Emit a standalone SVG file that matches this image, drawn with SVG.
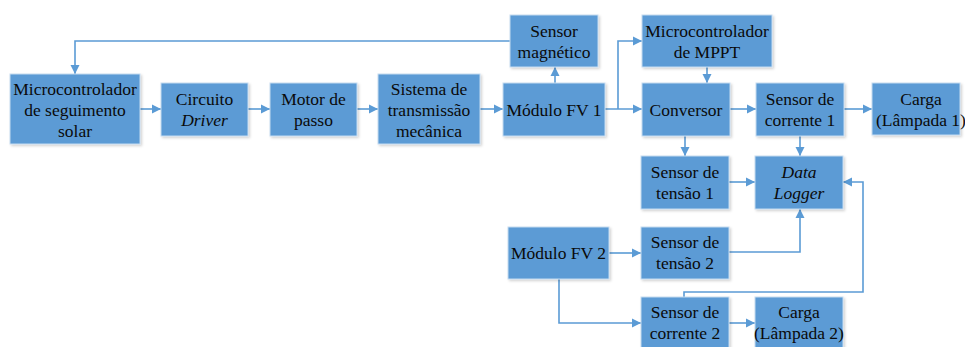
<svg xmlns="http://www.w3.org/2000/svg" width="965" height="347" viewBox="0 0 965 347" font-family="'Liberation Serif', 'Times New Roman', serif" font-size="17.5">
<style>
.box{fill:#5B9BD5;stroke:#C5DBF0;stroke-width:1;filter:url(#sh)}
text{fill:#0a0a0a;text-anchor:middle}
.it{font-style:italic}
.c{fill:none;stroke:#5B9BD5;stroke-width:1.6;marker-end:url(#ah)}
</style>
<defs>
<filter id="sh" x="-10%" y="-10%" width="130%" height="130%">
<feDropShadow dx="1.5" dy="1.5" stdDeviation="1" flood-color="#000" flood-opacity="0.18"/>
</filter>
<marker id="ah" markerUnits="userSpaceOnUse" markerWidth="10" markerHeight="10" refX="9" refY="5" orient="auto">
<path d="M0,0.5 L9,5 L0,9.5 z" fill="#5B9BD5"/>
</marker>
</defs>
<rect width="965" height="347" fill="#fff"/>
<g id="connectors">
<path class="c" d="M510,41 H75 V74"/>
<path class="c" d="M140,109 H161"/>
<path class="c" d="M248,109 H270"/>
<path class="c" d="M357,109 H378"/>
<path class="c" d="M480,109 H503"/>
<path class="c" d="M555,83 V67"/>
<path class="c" d="M605,109 H642"/>
<path class="c" d="M618,109 V41 H642"/>
<path class="c" d="M707,67 V83"/>
<path class="c" d="M730,109 H756"/>
<path class="c" d="M844,109 H872"/>
<path class="c" d="M685,136 V156"/>
<path class="c" d="M800,136 V156"/>
<path class="c" d="M729,182 H755"/>
<path class="c" d="M609,253 H641"/>
<path class="c" d="M729,252 H800 V209"/>
<path class="c" d="M559,279 V323 H641"/>
<path class="c" d="M729,323 H755"/>
<path class="c" d="M684,297 V292 H863 V182 H843"/>
</g>
<g id="micro-solar"><rect class="box" x="10" y="74" width="130" height="70"/>
<text x="75" y="95">Microcontrolador</text><text x="75" y="116">de seguimento</text><text x="75" y="137">solar</text></g>
<g id="driver"><rect class="box" x="161" y="83" width="87" height="53"/>
<text x="204.5" y="105">Circuito</text><text x="204.5" y="126" class="it">Driver</text></g>
<g id="motor"><rect class="box" x="270" y="83" width="87" height="53"/>
<text x="313.5" y="105">Motor de</text><text x="313.5" y="126">passo</text></g>
<g id="transmissao"><rect class="box" x="378" y="74" width="102" height="70"/>
<text x="429" y="95">Sistema de</text><text x="429" y="116">transmissão</text><text x="429" y="137">mecânica</text></g>
<g id="fv1"><rect class="box" x="503" y="83" width="102" height="53"/>
<text x="554" y="115.5">Módulo FV 1</text></g>
<g id="sensor-magnetico"><rect class="box" x="510" y="15" width="88" height="52"/>
<text x="554" y="37">Sensor</text><text x="554" y="58">magnético</text></g>
<g id="mppt"><rect class="box" x="642" y="15" width="130" height="52"/>
<text x="707" y="37">Microcontrolador</text><text x="707" y="58">de MPPT</text></g>
<g id="conversor"><rect class="box" x="642" y="83" width="88" height="53"/>
<text x="686" y="115.5">Conversor</text></g>
<g id="corrente1"><rect class="box" x="756" y="83" width="88" height="53"/>
<text x="800" y="105">Sensor de</text><text x="800" y="126">corrente 1</text></g>
<g id="carga1"><rect class="box" x="872" y="83" width="88" height="52"/>
<text x="921" y="105">Carga</text><text x="921" y="126">(Lâmpada 1)</text></g>
<g id="tensao1"><rect class="box" x="641" y="156" width="88" height="53"/>
<text x="685" y="178">Sensor de</text><text x="685" y="199">tensão 1</text></g>
<g id="datalogger"><rect class="box" x="755" y="156" width="88" height="53"/>
<text x="799" y="178" class="it">Data</text><text x="799" y="199" class="it">Logger</text></g>
<g id="fv2"><rect class="box" x="508" y="227" width="101" height="52"/>
<text x="558.5" y="259">Módulo FV 2</text></g>
<g id="tensao2"><rect class="box" x="641" y="227" width="88" height="52"/>
<text x="685" y="248">Sensor de</text><text x="685" y="269">tensão 2</text></g>
<g id="corrente2"><rect class="box" x="641" y="297" width="88" height="53"/>
<text x="685" y="318">Sensor de</text><text x="685" y="339">corrente 2</text></g>
<g id="carga2"><rect class="box" x="755" y="297" width="88" height="53"/>
<text x="799" y="318">Carga</text><text x="799" y="339">(Lâmpada 2)</text></g>
</svg>
